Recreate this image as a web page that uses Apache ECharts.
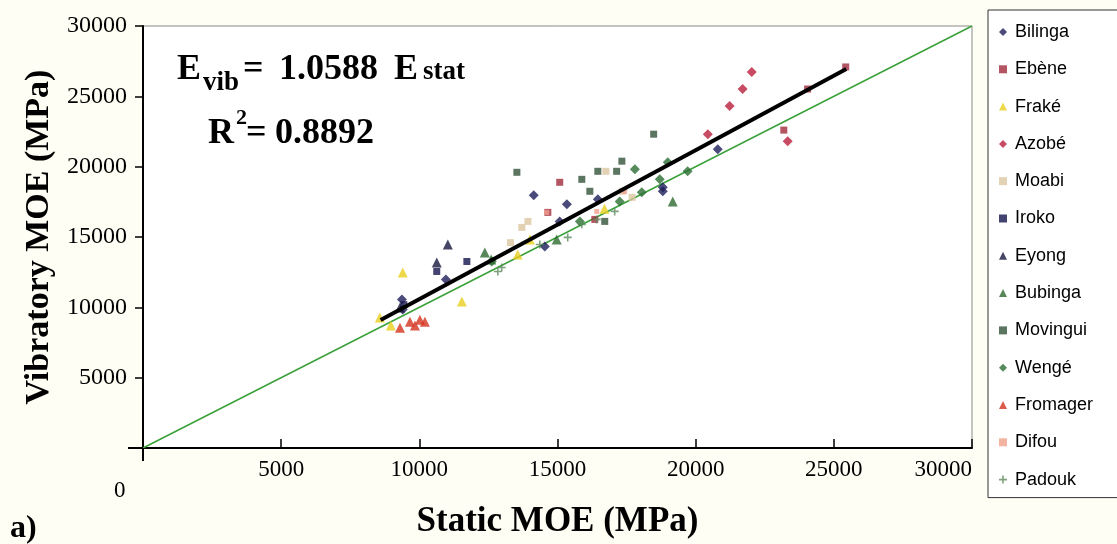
<!DOCTYPE html>
<html>
<head>
<meta charset="utf-8">
<script src="https://cdn.jsdelivr.net/npm/echarts@6/dist/echarts.min.js"></script>
<style>html,body{margin:0;padding:0;background:#fefef4;}#c{width:1117px;height:544px;}</style>
</head>
<body>
<div id="c"></div>
<script>
// ---- data (Static MOE, Vibratory MOE) in MPa ----
const speciesNames = ['Bilinga','Ebène','Fraké','Azobé','Moabi','Iroko','Eyong','Bubinga','Movingui','Wengé','Fromager','Difou','Padouk'];
const bilinga  = [[14140,17960],[15340,17320],[16460,17680],[15080,16110],[14540,14330],[18810,18530],[18810,18250],[20800,21240],[9370,10550],[9400,9840],[10960,11980]];
const ebene    = [[25430,27090],[24050,25520],[15080,18890],[14650,16750],[23190,22600],[16350,16250]];
const frake    = [[9400,12470],[11540,10410],[8970,8700],[8570,9270],[13560,13760],[14000,14830],[16700,17000]];
const azobe    = [[22030,26730],[21700,25520],[21230,24310],[20440,22310],[23330,21810]];
const moabi    = [[16750,19670],[13930,16110],[13710,15680],[17350,18250],[17700,17820],[13300,14600]];
const iroko    = [[10630,12550],[11720,13260],[9440,10190]];
const eyong    = [[11030,14470],[10630,13190],[9300,9980]];
const bubinga  = [[12370,13900],[19170,17530],[14970,14830],[12600,13400]];
const movingui = [[13530,19600],[18480,22310],[15880,19100],[16460,19670],[17140,19670],[16170,18250],[17330,20390],[16710,16110]];
const wenge    = [[12620,13260],[17800,19820],[18990,20310],[19710,19670],[18050,18180],[17250,17530],[18700,19100],[15810,16110]];
const fromager = [[9660,8980],[10020,9120],[9300,8550],[9840,8700],[10200,8980]];
const difou    = [[17430,18250],[16420,16820],[14610,16750]];
const padouk   = [[12980,12830],[12840,12550],[15370,14970],[16420,16250],[15880,15900],[14360,14470],[17070,16820]];

const slope = 1.0588;           // regression E_vib = 1.0588 E_stat
const fitRangeX = [8600, 25450];
const equalityX = [0, 30000];
const xTickLabels = ['0','5000','10000','15000','20000','25000','30000'];
const yTickLabels = ['0','5000','10000','15000','20000','25000','30000'];

const seriesData = [bilinga, ebene, frake, azobe, moabi, iroko, eyong, bubinga, movingui, wenge, fromager, difou, padouk];
const styles = [
  {symbol:'diamond', size:10, color:'#1e1e5a'},
  {symbol:'rect', size:7, color:'#a02a3c'},
  {symbol:'triangle', size:10, color:'#e8cf1c'},
  {symbol:'diamond', size:10, color:'#b81e3c'},
  {symbol:'rect', size:7, color:'#dcc6a0'},
  {symbol:'rect', size:7, color:'#14144e'},
  {symbol:'triangle', size:10, color:'#16163e'},
  {symbol:'triangle', size:10, color:'#2e6a30'},
  {symbol:'rect', size:7, color:'#33523a'},
  {symbol:'diamond', size:10, color:'#2a6e32'},
  {symbol:'triangle', size:10, color:'#d4321e'},
  {symbol:'rect', size:5, color:'#f0a08c'},
  {symbol:'path://M2,0H3V2H5V3H3V5H2V3H0V2H2Z', size:8, color:'#5e8a5e'}
];

const series = speciesNames.map((n,i)=>({
  name:n, type:'scatter', data:seriesData[i], symbol:styles[i].symbol, symbolSize:styles[i].size,
  itemStyle:{color:styles[i].color}, z:3
}));
series.push({type:'line', data:equalityX.map(x=>[x,x]), symbol:'none', lineStyle:{color:'#3aa13a', width:1.5}, z:2, silent:true});
series.push({type:'line', data:fitRangeX.map(x=>[x,x*slope]), symbol:'none', lineStyle:{color:'#000', width:4}, z:4, silent:true});

const serif = '"Liberation Serif", "Times New Roman", serif';
function t(text, x, baseline, size, extra){
  return Object.assign({type:'text', left:x, top: baseline - 0.84*size, z:10,
    style:{text:text, font:'bold '+size+'px '+serif, fill:'#000'}}, extra||{});
}

const chart = echarts.init(document.getElementById('c'));
chart.setOption({
  backgroundColor:'#fefef4',
  animation:false,
  grid:{left:143, right:145, top:26, bottom:96, show:true, backgroundColor:'#ffffff', borderColor:'#8a8a8a', borderWidth:1},
  legend:{
    data:speciesNames, orient:'vertical', left:988, top:10,
    padding:[13,40,9,11], itemGap:19.3, itemWidth:8, itemHeight:8,
    borderColor:'#333', borderWidth:1, backgroundColor:'#ffffff',
    textStyle:{fontFamily:'"Liberation Sans", Arial, sans-serif', fontSize:18, color:'#000', padding:[0,0,0,3]}
  },
  xAxis:{
    type:'value', min:0, max:30000, interval:5000,
    name:'Static MOE (MPa)', nameLocation:'middle', nameGap:56,
    nameTextStyle:{fontFamily:serif, fontWeight:'bold', fontSize:35, color:'#000'},
    axisLine:{show:true, onZero:false, lineStyle:{color:'#000', width:2}},
    axisTick:{show:true, inside:true, length:9, lineStyle:{color:'#000', width:1.5}},
    axisLabel:{fontFamily:serif, fontSize:23, color:'#000', margin:10, showMinLabel:false, alignMaxLabel:'right',
      formatter:(v)=>xTickLabels[Math.round(v/5000)]},
    splitLine:{show:false}
  },
  yAxis:{
    type:'value', min:0, max:30000, interval:5000,
    name:'Vibratory MOE (MPa)', nameLocation:'middle', nameGap:84,
    nameTextStyle:{fontFamily:serif, fontWeight:'bold', fontSize:34, color:'#000'},
    axisLine:{show:true, onZero:false, lineStyle:{color:'#000', width:2}},
    axisTick:{show:true, inside:false, length:8, lineStyle:{color:'#000', width:1.5}},
    axisLabel:{fontFamily:serif, fontSize:24, color:'#000', margin:16, showMinLabel:false,
      formatter:(v)=>yTickLabels[Math.round(v/5000)]},
    splitLine:{show:false}
  },
  graphic:[
    {type:'line', shape:{x1:128,y1:448,x2:143,y2:448}, style:{stroke:'#000', lineWidth:2}, z:10},
    {type:'line', shape:{x1:143,y1:448,x2:143,y2:461}, style:{stroke:'#000', lineWidth:2}, z:10},
    t('E', 177, 82, 36),
    t('vib', 203, 92, 27),
    t('=', 243, 82, 36),
    t('1.0588', 279, 82, 36),
    t('E', 394, 82, 36),
    t('stat', 423, 81, 27),
    t('R', 208, 146, 36),
    t('2', 236, 126, 22),
    t('=', 246, 146, 36),
    t('0.8892', 275, 146, 36),
    {type:'text', left:114, top:479, z:10, style:{text:xTickLabels[0], font:'23px '+serif, fill:'#000'}},
    t('a)', 10, 540, 32)
  ],
  series:series
});
</script>
</body>
</html>
